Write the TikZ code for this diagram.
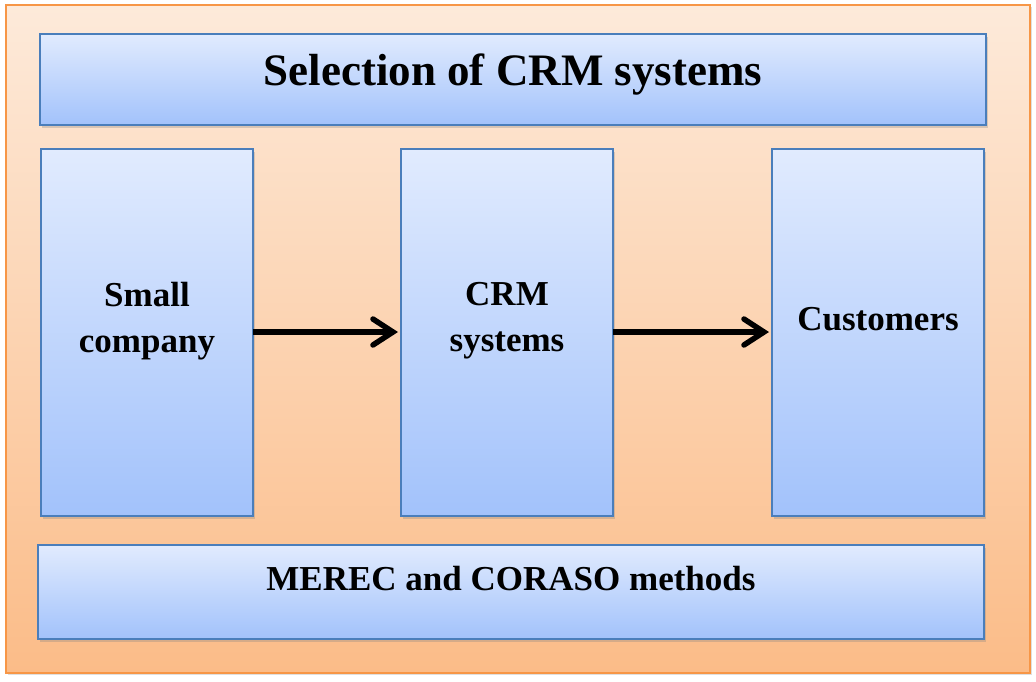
\documentclass[tikz,border=0pt]{standalone}
\usepackage{fontspec}
\setmainfont{Liberation Serif}
\usetikzlibrary{shadows,arrows.meta}
\definecolor{outerTop}{HTML}{FDEADA}
\definecolor{outerBot}{HTML}{FBBC88}
\definecolor{outerLine}{HTML}{F79646}
\definecolor{boxTop}{HTML}{E1EBFE}
\definecolor{boxBot}{HTML}{A2C2FB}
\definecolor{boxLine}{HTML}{4A7EBB}
\tikzset{
  outerbox/.style={draw=outerLine, line width=1.5pt, top color=outerTop, bottom color=outerBot,
    drop shadow={shadow xshift=2pt, shadow yshift=-2pt, opacity=0.25}},
  bluebox/.style={draw=boxLine, line width=1.5pt, top color=boxTop, bottom color=boxBot,
    drop shadow={shadow xshift=2pt, shadow yshift=-3pt, opacity=0.3}},
  boxtext/.style={font=\fontsize{35}{46}\selectfont\bfseries, align=center},
  flow/.style={line width=5.5pt, -{Straight Barb[length=20pt, width=26pt, line width=5.5pt, line cap=round]}}
}
\begin{document}
\begin{tikzpicture}[x=1pt, y=-1pt]
\useasboundingbox (0,0) rectangle (1036,681);
\path[outerbox] (6,5) rectangle (1030,673);
\path[bluebox] (40,34) rectangle (986,125);
\node[font=\fontsize{45}{50}\selectfont\bfseries] (title) at (513,75) {Selection of CRM systems};
\path[bluebox] (41,149) rectangle (253,516);
\path[bluebox] (401,149) rectangle (613,516);
\path[bluebox] (772,149) rectangle (984,516);
\node[boxtext] (t1) at (147,321) {Small\\company};
\node[boxtext] (t2) at (507,321) {CRM\\systems};
\node[boxtext] (t3) at (878,319) {Customers};
\coordinate (a1s) at (253,332);
\coordinate (a1e) at (398,332);
\coordinate (a2s) at (613,332);
\coordinate (a2e) at (769,332);
\draw[flow] (a1s) -- (a1e);
\draw[flow] (a2s) -- (a2e);
\path[bluebox] (38,545) rectangle (984,639);
\node[boxtext] (m) at (511,579) {MEREC and CORASO methods};
\end{tikzpicture}
\end{document}
